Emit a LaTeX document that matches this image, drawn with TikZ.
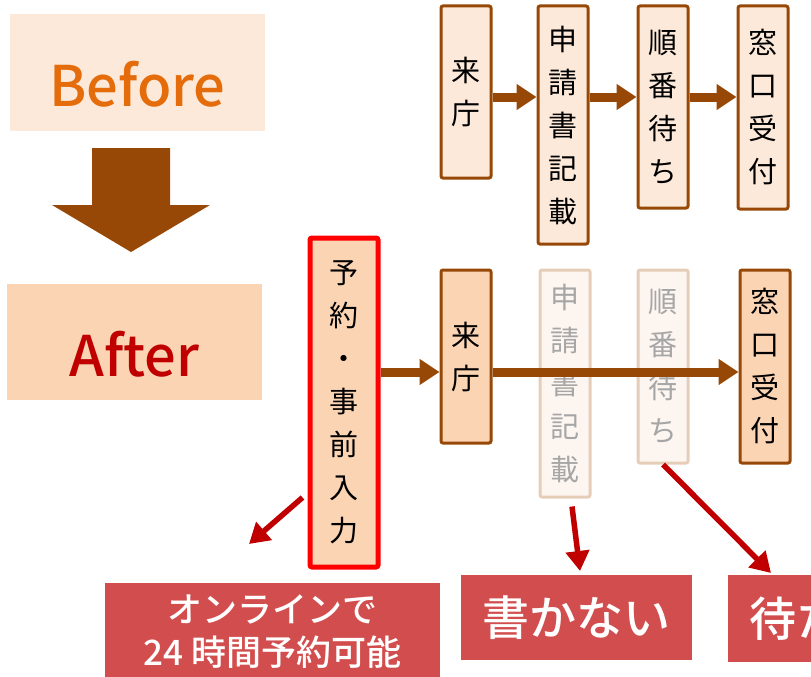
\documentclass[tikz,border=0pt]{standalone}
\usepackage{fontspec}
\setmainfont{Noto Sans CJK JP}
\newfontfamily\medfont{Noto Sans CJK JP}[UprightFont={* Medium}]
\usetikzlibrary{arrows.meta}
\definecolor{brownline}{HTML}{974806}
\definecolor{beforefill}{HTML}{FDE9D9}
\definecolor{afterfill}{HTML}{FBD4B4}
\definecolor{beforetext}{HTML}{E46C0A}
\definecolor{aftertext}{HTML}{C00000}
\definecolor{fadefill}{HTML}{FDF5F0}
\definecolor{fadeline}{HTML}{E6CDB8}
\definecolor{fadetext}{HTML}{A6A6A6}
\definecolor{labelfill}{HTML}{D24E4E}
\definecolor{arrowred}{HTML}{C00000}

\tikzset{
  procbox/.style={draw=brownline, line width=3pt, fill=beforefill, rounded corners=2pt,
    minimum width=50pt, inner sep=0pt, align=center, font=\fontsize{29}{43}\selectfont},
  nowbox/.style={procbox, fill=afterfill},
  fadebox/.style={procbox, draw=fadeline, fill=fadefill, text=fadetext},
  keybox/.style={procbox, draw=red, line width=5pt, fill=afterfill, minimum width=68pt},
  stagebox/.style={inner sep=0pt, font=\fontsize{56}{60}\selectfont\medfont},
  gainbox/.style={fill=labelfill, text=white, inner sep=0pt, align=center},
  flow/.style={brownline, line width=9pt, -{Triangle[length=20pt,width=25pt]}},
  pointer/.style={arrowred, line width=5.5pt, -{Triangle[length=20pt,width=23pt]}}
}

\begin{document}
\begin{tikzpicture}[x=1pt, y=-1pt]
\useasboundingbox (0,0) rectangle (811,677);

% Before / After
\fill[beforefill] (10,14) rectangle (265,131);
\node[stagebox, text=beforetext] (before) at (137.5,84) {Before};
\fill[brownline] (92,148) -- (170,148) -- (170,205) -- (210,205) -- (131,252) -- (52,205) -- (92,205) -- cycle;
\fill[afterfill] (7,284) rectangle (262,400);
\node[stagebox, text=aftertext] (after) at (134.5,354) {After};

% current flow
\node[procbox, minimum height=172pt] (b1) at (466,92) {来\\庁};
\node[procbox, minimum height=238pt] (b2) at (563,125) {申\\請\\書\\記\\載};
\node[procbox, minimum height=202pt] (b3) at (663,107) {順\\番\\待\\ち};
\node[procbox, minimum height=203pt] (b4) at (763,107.5) {窓\\口\\受\\付};
\coordinate (row1) at (0,97);
\foreach \a/\b in {b1/b2,b2/b3,b3/b4}
  \draw[flow] (\a.east |- row1) -- (\b.west |- row1);

% new flow
\node[keybox, minimum height=329pt] (a0) at (344,402.5) {予\\約\\・\\事\\前\\入\\力};
\node[nowbox, minimum height=173pt] (a1) at (466,356.5) {来\\庁};
\node[fadebox, minimum height=227pt] (a2) at (565,383.5) {申\\請\\書\\記\\載};
\node[fadebox, minimum height=193pt] (a3) at (663,366.5) {順\\番\\待\\ち};
\node[nowbox, minimum height=193pt] (a4) at (765,366.5) {窓\\口\\受\\付};
\coordinate (row2) at (0,372);
\draw[flow] (a0.east |- row2) -- (a1.west |- row2);
\draw[flow] (a1.east |- row2) -- (a4.west |- row2);

% gains
\node[gainbox, minimum width=335pt, minimum height=97pt, font=\fontsize{35}{43}\selectfont\medfont] (g1) at (272.5,631.5) {オンラインで\\24 時間予約可能};
\node[gainbox, minimum width=231pt, minimum height=85pt, font=\fontsize{47}{50}\selectfont\medfont] (g2) at (576.5,617.5) {書かない};
\node[gainbox, minimum width=231pt, minimum height=87pt, font=\fontsize{47}{50}\selectfont\medfont] (g3) at (843.5,618.5) {待たない};

\coordinate (t1) at (249,544);
\coordinate (t2) at (580,571);
\coordinate (t3) at (771,573);
\draw[pointer] ([xshift=-5pt,yshift=-95pt]a0.west) -- (t1);
\draw[pointer] ([xshift=7pt,yshift=-8pt]a2.south) -- (t2);
\draw[pointer] (a3.south) -- (t3);
\end{tikzpicture}
\end{document}
